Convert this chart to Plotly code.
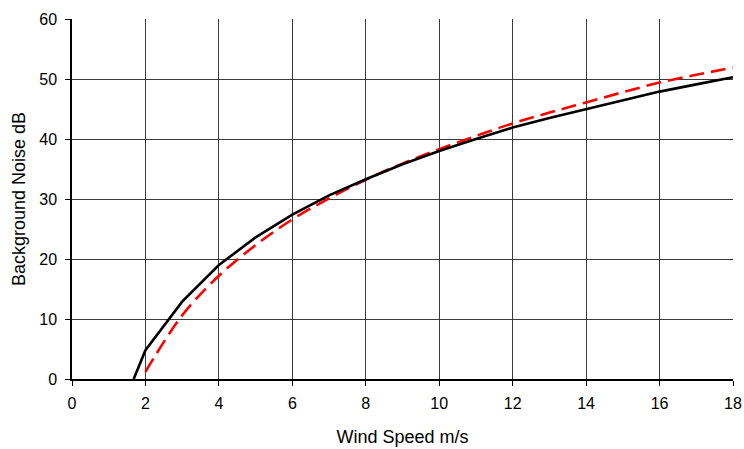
import plotly.graph_objects as go

# Measured background noise vs. wind speed
wind_speed_measured = [1.68, 2, 3, 4, 5, 6, 7, 8, 9, 10, 11, 12, 13, 14, 15, 16, 17, 18]
noise_measured = [0, 4.8, 12.9, 19.0, 23.6, 27.4, 30.6, 33.3, 35.8, 38.0, 40.0, 41.9, 43.5, 45.0, 46.5, 47.9, 49.1, 50.3]

# Fitted background noise curve
wind_speed_fit = [2, 3, 4, 5, 6, 7, 8, 9, 10, 11, 12, 13, 14, 15, 16, 17, 18]
noise_fit = [1.2, 10.6, 17.2, 22.3, 26.6, 30.1, 33.2, 35.9, 38.3, 40.5, 42.6, 44.4, 46.1, 47.8, 49.4, 50.7, 51.9]

x_ticks = [0, 2, 4, 6, 8, 10, 12, 14, 16, 18]
y_ticks = [0, 10, 20, 30, 40, 50, 60]

fig = go.Figure()
fig.add_trace(go.Scatter(
    x=wind_speed_fit, y=noise_fit, mode="lines",
    line=dict(color="#ff0000", width=2.6, dash="15px,7px", shape="spline"),
    showlegend=False,
))
fig.add_trace(go.Scatter(
    x=wind_speed_measured, y=noise_measured, mode="lines",
    line=dict(color="#000000", width=2.6),
    showlegend=False,
))

font = dict(family="Liberation Sans, Arial, sans-serif", size=15, color="#000000")
tick_font = dict(family="Liberation Sans, Arial, sans-serif", size=16, color="#000000")

fig.update_layout(
    width=744, height=449,
    margin=dict(l=72, r=11, t=19, b=70),
    paper_bgcolor="white", plot_bgcolor="white",
    font=font,
    xaxis=dict(
        range=[0, 18], tickvals=x_ticks, ticks="outside", ticklen=5,
        tickcolor="#000", showgrid=True, gridcolor="#3a3a3a", gridwidth=1,
        showline=True, linecolor="#000", linewidth=1.5, zeroline=False,
        automargin=False, ticklabelstandoff=4,
        title=dict(text="Wind Speed m/s", standoff=19), tickfont=tick_font,
    ),
    yaxis=dict(
        range=[0, 60], tickvals=y_ticks, ticks="outside", ticklen=5,
        tickcolor="#000", showgrid=True, gridcolor="#3a3a3a", gridwidth=1,
        showline=True, linecolor="#000", linewidth=1.5, zeroline=False,
        automargin=False, ticklabelstandoff=5,
        title=dict(text="Background Noise dB", standoff=9), tickfont=tick_font,
    ),
)

fig.write_html("out.html")
